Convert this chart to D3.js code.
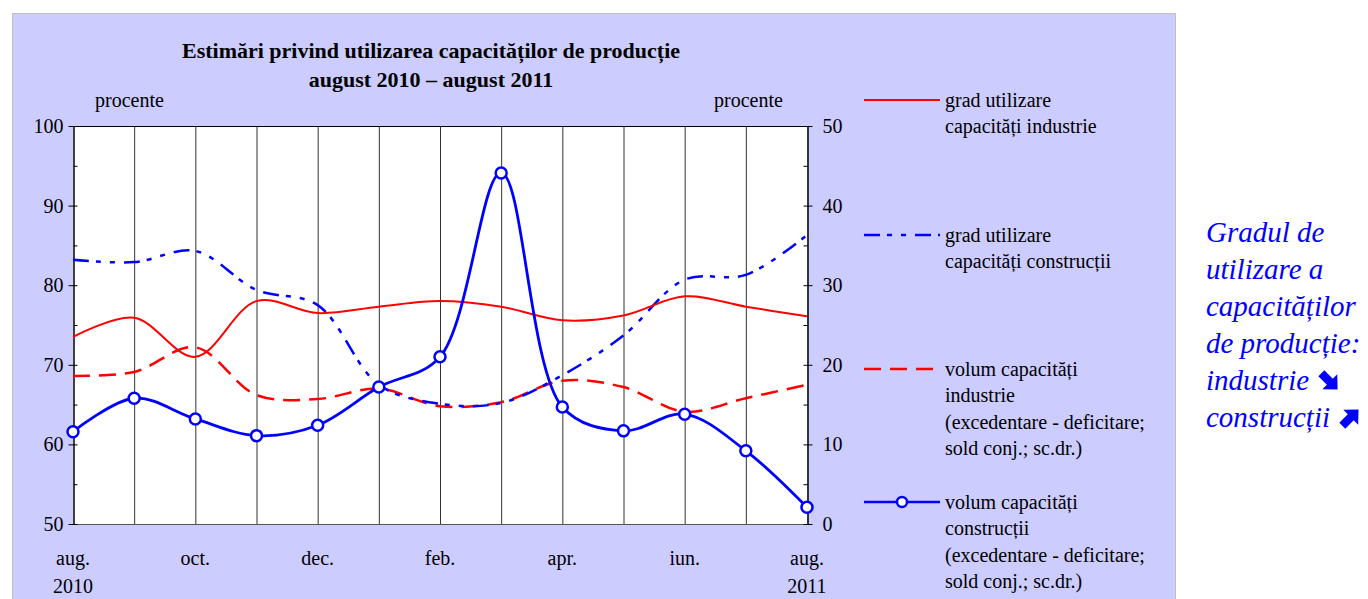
<!DOCTYPE html>
<html>
<head>
<meta charset="utf-8">
<script src="https://cdn.jsdelivr.net/npm/d3@7"></script>
<style>
  body { margin: 0; background: #fff; }
  svg text { font-family: "Liberation Serif", "Times New Roman", serif; fill: #000; }
</style>
</head>
<body>
<div id="chart"></div>
<script>
/*
    DATA
*/
let months = ["aug10", "sep10", "oct10", "nov10", "dec10", "ian11", "feb11", "mar11", "apr11", "mai11", "iun11", "iul11", "aug11"];
let monthLabels = ["aug.", "", "oct.", "", "dec.", "", "feb.", "", "apr.", "", "iun.", "", "aug."];
let yearLabels = ["2010", "", "", "", "", "", "", "", "", "", "", "", "2011"];

// left axis (grad utilizare, %)
let gradIndustrie = [73.5, 75.9, 71.0, 78.0, 76.5, 77.3, 78.0, 77.3, 75.6, 76.2, 78.6, 77.3, 76.1];
let gradConstructii = [83.2, 82.9, 84.3, 79.4, 77.5, 67.5, 65.1, 65.2, 68.7, 73.7, 80.7, 81.3, 86.3];
// right axis (volum capacitati, sold conj.)
let volumIndustrie = [18.6, 19.1, 22.2, 16.2, 15.7, 17.0, 14.8, 15.3, 18.0, 17.2, 14.1, 15.8, 17.5];
let volumConstructii = [11.6, 15.8, 13.2, 11.1, 12.4, 17.2, 21.0, 44.1, 14.7, 11.7, 13.8, 9.2, 2.1];

let leftTicks = [50, 60, 70, 80, 90, 100];
let rightTicks = [0, 10, 20, 30, 40, 50];

let legendLabels = [
    ["grad utilizare", "capacități industrie"],
    ["grad utilizare", "capacități construcții"],
    ["volum capacități", "industrie", "(excedentare - deficitare;", "sold conj.; sc.dr.)"],
    ["volum capacități", "construcții", "(excedentare - deficitare;", "sold conj.; sc.dr.)"]
];
let sideText = ["Gradul de", "utilizare a", "capacităților", "de producție:", "industrie", "construcții"];

/*
    CONSTANTS
*/
let SIZE = { width: 1368, height: 599 };
let PLOT = { left: 73, right: 807, top: 126, bot: 524 };
let RED = "#ff0000";
let BLUE = "#0000ff";
let DASH_DOT = "16,7,5,9,5,9";
let DASHED = "17,9";
let FONT = 20;

var svg = d3.select("#chart")
    .append("svg")
    .attr("width", SIZE.width)
    .attr("height", SIZE.height);

// lavender chart panel
svg.append("rect")
    .attr("x", 12.5).attr("y", 13.5)
    .attr("width", 1163).attr("height", 600)
    .attr("fill", "#ccccff")
    .attr("stroke", "#c0c0c0")
    .attr("stroke-width", 1);

var x = d3.scalePoint().domain(months).range([PLOT.left, PLOT.right]);
var yL = d3.scaleLinear().domain([50, 100]).range([PLOT.bot, PLOT.top]);
var yR = d3.scaleLinear().domain([0, 50]).range([PLOT.bot, PLOT.top]);

// plot area
svg.append("rect")
    .attr("x", PLOT.left).attr("y", PLOT.top)
    .attr("width", PLOT.right - PLOT.left).attr("height", PLOT.bot - PLOT.top)
    .attr("fill", "#fff");

// vertical gridlines
svg.append("g")
    .selectAll("line")
    .data(months.slice(1, -1))
    .enter()
    .append("line")
    .attr("x1", d => x(d) + 0.5).attr("x2", d => x(d) + 0.5)
    .attr("y1", PLOT.top).attr("y2", PLOT.bot)
    .attr("stroke", "#333")
    .attr("stroke-width", 1);

// top border and bottom axis line
svg.append("line")
    .attr("x1", PLOT.left).attr("x2", PLOT.right)
    .attr("y1", PLOT.top + 0.5).attr("y2", PLOT.top + 0.5)
    .attr("stroke", "#000");
svg.append("line")
    .attr("x1", PLOT.left).attr("x2", PLOT.right)
    .attr("y1", PLOT.bot + 0.5).attr("y2", PLOT.bot + 0.5)
    .attr("stroke", "#555");

// axes
var leftAxis = svg.append("g")
    .attr("transform", `translate(${PLOT.left + 0.5},0)`)
    .call(d3.axisLeft(yL).tickValues(leftTicks).tickSize(5).tickSizeOuter(0).tickPadding(5));
var rightAxis = svg.append("g")
    .attr("transform", `translate(${PLOT.right + 0.5},0)`)
    .call(d3.axisRight(yR).tickValues(rightTicks).tickSize(5).tickSizeOuter(0).tickPadding(10));

[leftAxis, rightAxis].forEach(g => {
    g.select(".domain").attr("stroke", "#000").attr("stroke-width", 1.5);
    g.selectAll(".tick line").attr("stroke", "#000");
    g.selectAll(".tick text")
        .attr("font-family", "Liberation Serif")
        .attr("font-size", FONT)
        .attr("fill", "#000");
});
// major ticks cross the axis
leftAxis.selectAll(".tick line").attr("x2", 4).attr("x1", -5);
rightAxis.selectAll(".tick line").attr("x1", -4).attr("x2", 5);

// minor ticks inside
var minorL = d3.range(55, 100, 10);
leftAxis.selectAll(".minor").data(minorL).enter().append("line")
    .attr("y1", d => yL(d) + 0.5).attr("y2", d => yL(d) + 0.5)
    .attr("x1", 0).attr("x2", 4).attr("stroke", "#000");
var minorR = d3.range(5, 50, 10);
rightAxis.selectAll(".minor").data(minorR).enter().append("line")
    .attr("y1", d => yR(d) + 0.5).attr("y2", d => yR(d) + 0.5)
    .attr("x1", -4).attr("x2", 0).attr("stroke", "#000");

// x labels
var xl = svg.append("g");
xl.selectAll(".m").data(months).enter().append("text")
    .attr("x", d => x(d)).attr("y", 565)
    .attr("text-anchor", "middle").attr("font-size", FONT)
    .text((d, i) => monthLabels[i]);
xl.selectAll(".yr").data(months).enter().append("text")
    .attr("x", d => x(d)).attr("y", 593)
    .attr("text-anchor", "middle").attr("font-size", FONT)
    .text((d, i) => yearLabels[i]);

// titles
svg.append("text").attr("x", 431).attr("y", 58)
    .attr("text-anchor", "middle").attr("font-size", 22).attr("font-weight", "bold")
    .text("Estimări privind utilizarea capacităților de producție");
svg.append("text").attr("x", 431).attr("y", 87)
    .attr("text-anchor", "middle").attr("font-size", 22).attr("font-weight", "bold")
    .text("august 2010 – august 2011");
svg.append("text").attr("x", 95).attr("y", 107).attr("font-size", FONT).text("procente");
svg.append("text").attr("x", 714).attr("y", 107).attr("font-size", FONT).text("procente");

/*
    SERIES
*/
var curve = d3.curveCatmullRom.alpha(0.5);
var lineL = d3.line().x((d, i) => x(months[i])).y(d => yL(d)).curve(curve);
var lineR = d3.line().x((d, i) => x(months[i])).y(d => yR(d)).curve(curve);

var series = [
    { values: volumIndustrie, line: lineR, color: RED, dash: DASHED, width: 2.5 },
    { values: gradConstructii, line: lineL, color: BLUE, dash: DASH_DOT, width: 2.5 },
    { values: gradIndustrie, line: lineL, color: RED, dash: null, width: 2 },
    { values: volumConstructii, line: lineR, color: BLUE, dash: null, width: 2.8 }
];

series.forEach(s => {
    svg.append("path")
        .attr("d", s.line(s.values))
        .attr("fill", "none")
        .attr("stroke", s.color)
        .attr("stroke-width", s.width)
        .attr("stroke-dasharray", s.dash);
});

svg.append("g").selectAll("circle")
    .data(volumConstructii)
    .enter()
    .append("circle")
    .attr("cx", (d, i) => x(months[i]))
    .attr("cy", d => yR(d))
    .attr("r", 5.5)
    .attr("fill", "#fff")
    .attr("stroke", BLUE)
    .attr("stroke-width", 2.5);

/*
    LEGEND
*/
var legendY = [100, 235, 369, 502];
var legendStyle = [
    { color: RED, dash: null, width: 2 },
    { color: BLUE, dash: DASH_DOT, width: 2.5 },
    { color: RED, dash: DASHED, width: 2.5 },
    { color: BLUE, dash: null, width: 2.5, marker: true }
];
legendLabels.forEach((lines, k) => {
    var y0 = legendY[k];
    var st = legendStyle[k];
    svg.append("line")
        .attr("x1", 864).attr("x2", 940)
        .attr("y1", y0).attr("y2", y0)
        .attr("stroke", st.color).attr("stroke-width", st.width)
        .attr("stroke-dasharray", st.dash);
    if (st.marker) {
        svg.append("circle").attr("cx", 902).attr("cy", y0).attr("r", 5)
            .attr("fill", "#fff").attr("stroke", st.color).attr("stroke-width", 2.5);
    }
    svg.append("g").selectAll("text").data(lines).enter().append("text")
        .attr("x", 945).attr("y", (d, i) => y0 + 7 + i * 26.3)
        .attr("font-size", FONT)
        .text(d => d);
});

/*
    SIDE NOTE
*/
// heavy arrow pointing right, rotated for the trend marks
var arrowPath = "M-11,-4.2 L1,-4.2 L1,-10.5 L12,0 L1,10.5 L1,4.2 L-11,4.2 Z";
var side = svg.append("g");
sideText.forEach((t, i) => {
    var ty = 242 + i * 37;
    var tx = side.append("text")
        .attr("x", 1206).attr("y", ty)
        .attr("font-size", 29).attr("font-style", "italic")
        .style("fill", BLUE)
        .text(t);
    if (i >= 4) {
        var end = 1206 + tx.node().getComputedTextLength();
        side.append("path")
            .attr("d", arrowPath)
            .attr("fill", BLUE)
            .attr("transform", `translate(${end + 20},${ty - 9}) rotate(${i == 4 ? 45 : -45})`);
    }
});
</script>
</body>
</html>
